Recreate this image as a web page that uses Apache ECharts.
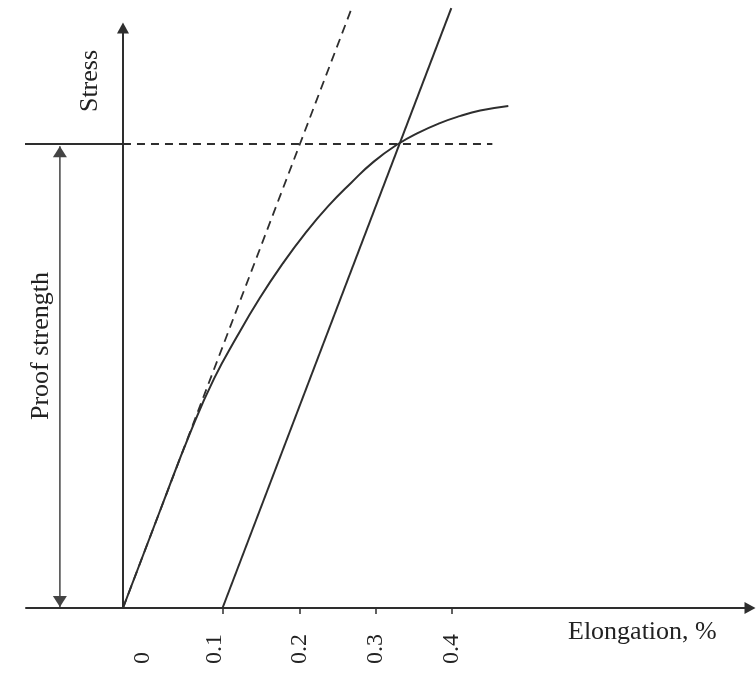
<!DOCTYPE html>
<html lang="en">
<head>
  <meta charset="utf-8">
  <script src="https://cdn.jsdelivr.net/npm/echarts@6/dist/echarts.min.js"></script>
</head>
<body style="margin: 0; background: #fff">
  <div id="chart" style="width: 756px; height: 684px"></div>

  <script type="text/javascript">
    // the book figure is not drawn to scale, so elongation is kept in drawing units
    var tickValues = [0.131, 0.232, 0.332, 0.432];
    var labelValues = [0.026, 0.121, 0.232, 0.332, 0.432];
    var tickLabels = ['0', '0.1', '0.2', '0.3', '0.4'];

    var proofStrength = 100;
    var proofLineEnd = 0.486;
    var proofLineStart = -0.147;
    var arrowX = -0.083;

    // elastic line from origin and the same line offset to 0.1 %
    var elasticLine = [[0, 0], [0.301, 129.3]];
    var offsetLine = [[0.131, 0], [0.432, 129.3]];

    // stress-elongation curve
    var curveX = [0, 0.05, 0.09, 0.12, 0.15, 0.18, 0.21, 0.24, 0.27, 0.30, 0.33, 0.362, 0.387, 0.417, 0.443, 0.470, 0.507];
    var curveY = [0, 21.5, 38.4, 49.5, 58.5, 66.8, 74.2, 80.8, 86.6, 91.6, 96.2, 100.0, 102.3, 104.5, 106.0, 107.2, 108.2];

    var curve = [];
    for (var i = 0; i < curveX.length; i++) {
      curve.push([curveX[i], curveY[i]]);
    }

    var ink = '#2e2e2e';
    var font = '"Liberation Serif", "DejaVu Serif", serif';

    var chart = echarts.init(document.getElementById('chart'));

    var option = {
      animation: false,
      grid: { left: 26, right: 6, top: 28, bottom: 76 },
      xAxis: {
        type: 'value',
        min: -0.1276,
        max: 0.825,
        splitLine: { show: false },
        axisLine: {
          onZero: true,
          symbol: ['none', 'triangle'],
          symbolSize: [12, 11],
          lineStyle: { color: ink, width: 2 }
        },
        axisTick: {
          customValues: tickValues,
          length: 6,
          lineStyle: { color: ink, width: 1.5 }
        },
        axisLabel: {
          customValues: labelValues,
          rotate: 90,
          align: 'left',
          verticalAlign: 'middle',
          margin: 56,
          color: '#222',
          fontFamily: font,
          fontSize: 24,
          formatter: function (v) {
            var k = labelValues.indexOf(v);
            return k >= 0 ? tickLabels[k] : '';
          }
        }
      },
      yAxis: {
        type: 'value',
        min: 0,
        max: 125,
        splitLine: { show: false },
        axisLine: {
          show: true,
          onZero: true,
          symbol: ['none', 'triangle'],
          symbolSize: [12, 11],
          lineStyle: { color: ink, width: 2 }
        },
        axisTick: { show: false },
        axisLabel: { show: false }
      },
      graphic: [
        {
          type: 'text', x: 90, y: 81, rotation: Math.PI / 2,
          style: { text: 'Stress', font: '26px ' + font, fill: '#222', align: 'center', verticalAlign: 'middle' }
        },
        {
          type: 'text', x: 41, y: 346, rotation: Math.PI / 2,
          style: { text: 'Proof strength', font: '26px ' + font, fill: '#222', align: 'center', verticalAlign: 'middle' }
        },
        {
          type: 'text', x: 568, y: 632,
          style: { text: 'Elongation, %', font: '26px ' + font, fill: '#222', align: 'left', verticalAlign: 'middle' }
        }
      ],
      series: [
        {
          name: 'elastic', type: 'line', data: elasticLine, symbol: 'none', clip: false,
          lineStyle: { color: ink, width: 1.8, type: [9, 6] }
        },
        {
          name: 'offset', type: 'line', data: offsetLine, symbol: 'none', clip: false,
          lineStyle: { color: ink, width: 2 }
        },
        {
          name: 'curve', type: 'line', data: curve, symbol: 'none', smooth: 0.5, clip: false,
          lineStyle: { color: ink, width: 2 }
        },
        {
          name: 'proof dashed', type: 'line', symbol: 'none', clip: false,
          data: [[0, proofStrength], [proofLineEnd, proofStrength]],
          lineStyle: { color: ink, width: 2, type: [8, 6] }
        },
        {
          name: 'proof solid', type: 'line', symbol: 'none', clip: false,
          data: [[proofLineStart, proofStrength], [0, proofStrength]],
          lineStyle: { color: ink, width: 2 }
        },
        {
          name: 'proof arrow', type: 'line', clip: false,
          symbol: 'triangle', symbolSize: [14, 11],
          itemStyle: { color: '#444' },
          lineStyle: { color: '#444', width: 1.5 },
          data: [
            { value: [arrowX, proofStrength - 0.5], symbolRotate: 0, symbolOffset: [0, '50%'] },
            { value: [arrowX, 0.2], symbolRotate: 180, symbolOffset: [0, '-50%'] }
          ]
        }
      ]
    };

    chart.setOption(option);
  </script>
</body>
</html>
